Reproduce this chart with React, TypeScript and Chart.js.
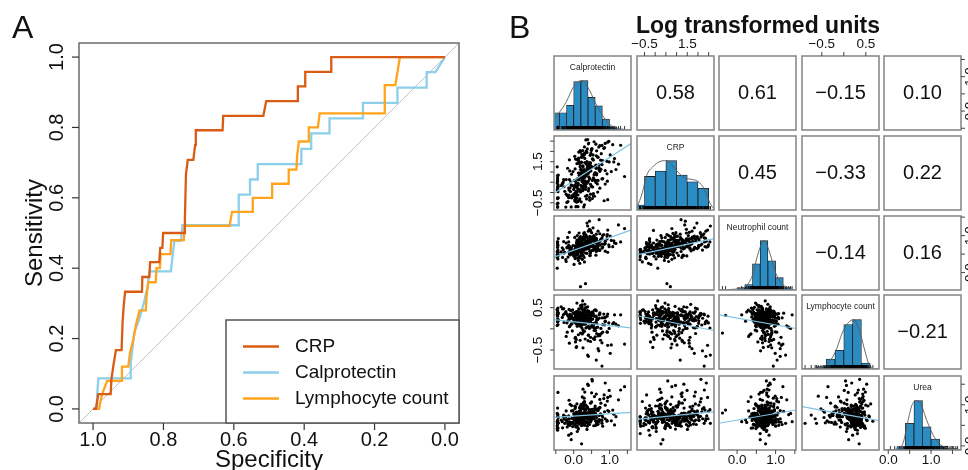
import React, { useEffect, useRef } from 'react';
import { Chart, registerables } from 'chart.js';

Chart.register(...registerables);

const FONT = '"Liberation Sans", Arial, Helvetica, sans-serif';

// ---------------- Panel A : ROC curves ----------------
const rocMin = -0.04;
const rocMax = 1.04;
const specTicks = [1.0, 0.8, 0.6, 0.4, 0.2, 0.0];
const sensTicks = [0.0, 0.2, 0.4, 0.6, 0.8, 1.0];
const rocLabels = ['CRP', 'Calprotectin', 'Lymphocyte count'];

const crpSpec = [1, 0.992, 0.985, 0.95, 0.948, 0.942, 0.935, 0.919, 0.916, 0.913, 0.909, 0.861, 0.86, 0.84, 0.838, 0.812, 0.809, 0.803, 0.801, 0.741, 0.739, 0.736, 0.731, 0.715, 0.71, 0.708, 0.632, 0.63, 0.516, 0.508, 0.418, 0.418, 0.397, 0.397, 0.323, 0.323, 0];
const crpSens = [0, 0, 0.042, 0.042, 0.083, 0.125, 0.167, 0.167, 0.25, 0.292, 0.333, 0.333, 0.375, 0.375, 0.417, 0.417, 0.458, 0.458, 0.5, 0.5, 0.542, 0.667, 0.708, 0.708, 0.75, 0.792, 0.792, 0.833, 0.833, 0.875, 0.875, 0.917, 0.917, 0.958, 0.958, 1, 1];

const calSpec = [1, 0.99, 0.988, 0.985, 0.895, 0.893, 0.888, 0.883, 0.867, 0.855, 0.845, 0.84, 0.779, 0.774, 0.769, 0.75, 0.746, 0.586, 0.586, 0.554, 0.554, 0.532, 0.532, 0.408, 0.408, 0.38, 0.38, 0.328, 0.328, 0.233, 0.233, 0.135, 0.135, 0.052, 0.052, 0.027, 0];
const calSens = [0, 0, 0.043, 0.087, 0.087, 0.13, 0.174, 0.217, 0.261, 0.304, 0.348, 0.391, 0.391, 0.435, 0.478, 0.478, 0.522, 0.522, 0.609, 0.609, 0.652, 0.652, 0.696, 0.696, 0.739, 0.739, 0.783, 0.783, 0.826, 0.826, 0.87, 0.87, 0.913, 0.913, 0.957, 0.957, 1];

const lymSpec = [1, 0.983, 0.975, 0.96, 0.918, 0.918, 0.9, 0.895, 0.885, 0.878, 0.868, 0.85, 0.848, 0.843, 0.822, 0.82, 0.81, 0.808, 0.78, 0.778, 0.742, 0.74, 0.612, 0.605, 0.546, 0.546, 0.491, 0.491, 0.444, 0.444, 0.422, 0.42, 0.415, 0.387, 0.387, 0.361, 0.356, 0.171, 0.171, 0.141, 0.128, 0];
const lymSens = [0, 0, 0.04, 0.08, 0.08, 0.12, 0.12, 0.16, 0.2, 0.24, 0.28, 0.28, 0.32, 0.36, 0.36, 0.4, 0.4, 0.44, 0.44, 0.48, 0.48, 0.52, 0.52, 0.56, 0.56, 0.6, 0.6, 0.64, 0.64, 0.68, 0.68, 0.72, 0.76, 0.76, 0.8, 0.8, 0.84, 0.84, 0.92, 0.92, 1, 1];

// ---------------- Panel B : pairs panel ----------------
const varNames = ['Calprotectin', 'CRP', 'Neutrophil count', 'Lymphocyte count', 'Urea'];

const calValues = [
  -0.45, 0.08, -0.22, -0.44, 0.15, -0.31, -0.05, -0.46, 0.21, -0.12, 0.02, -0.45, -0.27, 0.3, -0.09, -0.43, -0.18, 0.04, -0.35, -0.14,
  0.12, -0.45, -0.19, 0.33, -0.03, -0.44, 0.05, 0.24, -0.25, 0.14, -0.46, 0.42, 0.01, -0.11, 0.19, -0.45, 0.09, -0.07, 0.18, 0.07,
  0.28, 0.03, -0.45, 0.16, 0.58, -0.08, 0.35, 0.11, -0.44, 0.22, 0.47, 0.06, -0.21, 0.13, 0.25, -0.43, 0.09, 0.19, -0.14, 0.02,
  0.36, -0.45, 0.17, 0.62, 0.08, 0.29, -0.04, 0.44, 0.12, -0.46, 0.23, 0.73, 0.15, 0.05, 0.31, -0.32, 0.21, 0.1, 0.26, 0.18,
  0.24, 0.52, -0.45, 0.11, 0.38, 0.19, 0.85, 0.03, 0.31, 0.16, 0.67, -0.28, 0.45, 0.22, 0.07, 0.34, 0.14, 0.27, 0.2, 0.25,
  0.28, -0.17, 0.55, 0.21, 0.09, 0.41, 0.3, 0.95, 0.13, 0.26, 0.64, 0.18, 0.37, 0.06, 0.48, 0.23, 0.79, 0.34, 0.19, 0.25,
  0.71, 0.24, 0.12, 0.47, -0.06, 0.38, 0.29, 0.63, 0.17, 1.05, 0.33, 0.22, 0.56, 0.14, 0.41, 0.88, 0.26, 0.35, 0.44, 0.31,
  0.45, 0.93, 0.3, 0.02, 0.54, 0.21, 0.79, 0.38, 0.18, 0.63, 0.41, 1.14, 0.28, 0.47, 0.7, 0.35, 0.52, 0.23, 0.4, 0.32,
  0.26, 0.64, 0.49, 1.25, 0.36, 0.08, 0.73, 0.44, 0.55, 0.31, 0.99, 0.5, 0.41, 0.88, 0.29, 0.57, 0.38, 0.81, 0.47, 0.61,
  0.86, 0.15, 0.6, 0.42, 1.02, 0.71, 0.34, 0.53, 1.42, 0.64, 0.39, 0.79, 0.48, 0.94, 0.57, 0.68, 1.18, 0.51, 0.75, 0.62,
  -0.45, 0.11, -0.16, 0.27, -0.02, -0.44, 0.06, -0.29, 0.17, -0.1, 0.38, -0.46, 0.0, -0.21, 0.13, -0.07, 0.23, -0.45, 0.04, -0.13,
  0.2, -0.02, 0.33, 0.11, -0.45, 0.26, 0.07, 0.45, 0.16, -0.13, 0.29, 0.04, 0.55, 0.18, -0.44, 0.37, 0.1, 0.23, -0.06, 0.14,
  0.32, 0.14, 0.49, 0.25, 0.68, 0.03, 0.37, 0.21, 0.58, 0.29, -0.12, 0.42, 0.18, 0.76, 0.35, 0.09, 0.46, 0.27, 0.93, 0.31,
  0.47, 0.22, 0.61, 0.35, 0.84, 0.4, 0.13, 0.53, 0.29, 0.71, 0.44, 1.09, 0.26, 0.5, 0.37, 0.66, 0.05, 0.45, 0.98, 0.39,
  0.55, 0.3, 0.73, 0.46, 0.95, 0.62, 0.19, 0.81, 0.5, 1.12, 0.39, 0.67, 0.58, 1.31, 0.44, 0.77, 0.25, 0.63, 0.88, 0.52,
];
const crpValues = [
  -0.7, -0.68, -0.71, -0.52, -0.38, 0.45, -0.21, 0.12, -0.45, 0.63, -0.05, -0.3, 0.28, -0.6, 0.05, 0.85, -0.15, -0.42, 0.34, -0.25,
  -0.69, -0.7, -0.48, 0.55, -0.12, 0.31, -0.33, 0.78, 0.06, -0.41, 0.47, 0.19, -0.2, 1.05, 0.02, 0.62, -0.27, 0.36, 0.91, -0.05,
  -0.7, -0.36, 0.71, 0.15, -0.18, 0.52, 0.88, -0.44, 0.27, 1.12, 0.4, -0.08, 0.63, 0.95, 0.09, -0.26, 0.46, 1.31, 0.22, 0.58,
  -0.31, 0.82, 0.13, 0.49, -0.47, 1.04, 0.34, 0.67, -0.12, 1.25, 0.56, 0.21, 0.95, -0.22, 0.73, 0.42, 1.48, 0.05, 0.61, 0.88,
  0.98, -0.29, 0.55, 0.18, 1.22, 0.71, -0.4, 0.36, 1.46, 0.84, 0.02, 0.63, 1.09, 0.27, -0.11, 0.92, 1.68, 0.49, 0.77, 0.12,
  0.34, 1.18, -0.16, 0.72, 1.41, 0.55, 0.97, -0.35, 1.63, 0.21, 0.86, 1.26, 0.48, 0.04, 1.05, 1.85, 0.66, 0.28, 1.12, 0.79,
  1.36, 0.52, 1.58, -0.08, 0.89, 1.14, 0.31, 1.79, 0.73, 1.02, 0.15, 1.47, 0.63, 1.97, 0.95, 0.41, 1.24, 0.82, -0.24, 1.66,
  0.68, 1.52, 1.11, 0.25, 1.83, 0.94, 1.36, 0.47, 2.04, 1.21, 0.08, 1.65, 0.83, 1.44, 2.21, 1.03, 0.59, 1.75, 1.29, 0.36,
  1.74, 0.92, 2.05, 1.38, 0.45, 1.61, 2.28, 1.16, 0.71, 1.92, 1.49, 0.3, 2.37, 1.07, 1.83, 0.86, 2.12, 1.55, 1.27, 0.6,
  2.18, 1.46, 0.97, 2.41, 1.83, 1.21, 2.56, 1.64, 0.78, 2.03, 1.35, 2.29, 1.9, 0.55, 2.47, 1.72, 1.12, 2.14, 1.58, 2.35,
  -0.7, 0.36, -0.44, 0.71, -0.19, 0.04, -0.69, 0.52, -0.31, 0.23, 0.94, -0.55, 0.15, -0.08, 0.43, -0.7, 0.61, -0.26, 0.29, -0.13,
  0.35, 1.02, -0.18, 0.66, 0.21, 1.3, 0.48, -0.37, 0.84, 0.12, 0.57, 1.15, -0.05, 0.74, 0.39, 1.51, 0.27, 0.93, -0.26, 0.62,
  0.88, 1.42, 0.31, 1.07, 0.59, 1.76, -0.14, 0.97, 1.25, 0.43, 1.59, 0.76, 0.05, 1.13, 2.02, 0.65, 1.34, 0.22, 0.91, 1.88,
  1.22, 1.71, 0.56, 1.39, 2.15, 0.93, 1.57, 0.27, 1.88, 1.1, 1.46, 2.33, 0.74, 1.26, 1.95, 0.42, 1.63, 1.03, 2.49, 1.34,
  1.58, 2.22, 1.03, 1.81, 2.45, 1.34, 1.97, 0.68, 2.11, 1.49, 2.58, 1.72, 0.91, 2.3, 1.41, 1.89, 2.04, 1.17, 2.39, 1.63,
];
const neutValues = [
  0.48, 0.62, 0.35, 0.55, 0.71, 0.41, 0.58, 0.12, 0.66, 0.5, 0.44, 0.77, 0.53, 0.29, 0.6, 0.47, 0.69, 0.38, 0.56, 0.83,
  0.58, 0.43, 0.67, -0.3, 0.52, 0.74, 0.61, 0.36, 0.55, 0.81, 0.49, 0.64, 0.22, 0.7, 0.57, 0.46, 0.88, 0.6, 0.4, 0.65,
  0.63, 0.51, 0.72, 0.44, 0.68, 0.57, 0.85, 0.39, 0.61, 0.76, 0.53, 0.66, 0.3, 0.7, 0.59, 0.92, 0.48, 0.64, 0.74, 0.55,
  0.69, 0.56, 0.78, 0.47, 0.62, 0.73, 0.51, 0.88, 0.65, 0.41, 0.71, 0.6, 0.82, 0.54, 0.97, 0.67, 0.45, 0.76, 0.63, 0.58,
  0.72, 0.6, 0.81, 0.5, 0.66, -0.38, 0.77, 0.63, 0.91, 0.55, 0.7, 0.84, 0.46, 0.74, 0.68, 1.02, 0.59, 0.79, 0.65, 0.73,
  0.62, 0.95, 0.7, 0.49, 0.83, 0.75, 1.08, 0.55, 0.66, 0.78, 0.59, 0.9, 0.73, 0.52, 0.86, 0.68, 0.77, 0.64, 0.71, 0.8,
  0.84, 0.56, 0.73, 1.14, 0.67, 0.79, 0.94, 0.62, 0.7, 0.87, 0.53, 0.77, 1.0, 0.65, 0.81, 0.58, 0.9, 0.74, 0.71, 0.8,
  0.69, 0.91, 0.78, 0.6, 1.21, 0.82, 0.66, 0.95, 0.74, 0.57, 0.88, 0.8, 1.06, 0.7, 0.61, 0.99, 0.76, 0.85, 0.73, 0.84,
  0.96, 0.72, 0.88, 1.29, 0.64, 0.81, 1.05, 0.77, 0.61, 0.93, 0.7, 0.85, 1.12, 0.79, 0.66, 0.9, 0.74, 1.0, 0.83, 0.87,
  0.77, 1.07, 0.87, 0.69, 0.99, 1.43, 0.83, 0.75, 1.19, 0.91, 0.66, 0.94, 0.85, 1.03, 0.71, 1.12, 0.79, 0.96, 0.89, 0.93,
  0.51, 0.66, 0.42, 0.59, 0.73, 0.37, 0.54, 0.62, 0.25, 0.48, 0.7, 0.57, 0.45, 0.8, 0.33, 0.6, 0.52, 0.68, 0.44, 0.56,
  0.64, 0.53, 0.75, 0.6, 0.84, 0.47, 0.69, 0.58, 0.93, 0.66, 0.41, 0.72, 0.62, 0.78, 0.55, 0.7, 1.0, 0.63, 0.5, 0.68,
  0.7, 0.86, 0.59, 0.77, 0.65, 0.95, 0.52, 0.74, 0.81, 0.62, 1.09, 0.71, 0.57, 0.88, 0.68, 0.79, 0.46, 0.75, 0.99, 0.66,
  0.79, 0.92, 0.66, 0.85, 1.03, 0.73, 0.88, 0.6, 0.96, 0.81, 1.17, 0.7, 0.9, 0.77, 1.34, 0.83, 0.64, 0.98, 0.75, 0.86,
  0.88, 1.01, 0.74, 0.93, 1.15, 0.8, 0.97, 0.69, 1.08, 0.86, 1.26, 0.78, 0.95, 0.83, 1.39, 0.9, 0.72, 1.04, 0.85, 0.92,
];
const lymphValues = [
  0.35, 0.22, 0.41, 0.18, 0.29, 0.47, 0.12, 0.33, 0.26, 0.05, 0.38, 0.31, 0.15, 0.44, 0.24, 0.36, -0.08, 0.28, 0.52, 0.2,
  0.27, 0.39, 0.14, 0.32, 0.45, 0.21, 0.3, -0.12, 0.36, 0.25, 0.08, 0.42, 0.18, 0.34, 0.55, 0.23, 0.29, 0.11, 0.37, -0.25,
  0.31, 0.16, 0.38, 0.24, 0.02, 0.43, 0.28, 0.35, 0.1, 0.47, 0.19, 0.33, -0.18, 0.26, 0.4, 0.21, 0.61, 0.13, 0.3, 0.36,
  0.22, 0.36, 0.09, 0.29, 0.41, 0.17, -0.05, 0.33, 0.25, 0.46, 0.13, 0.38, 0.2, -0.31, 0.3, 0.27, 0.51, 0.06, 0.34, 0.23,
  0.28, 0.12, 0.34, 0.2, 0.43, -0.1, 0.26, 0.37, 0.15, 0.31, 0.04, 0.48, 0.23, 0.35, -0.44, 0.18, 0.29, 0.39, 0.09, 0.66,
  0.19, 0.32, 0.07, 0.27, 0.4, -0.15, 0.24, 0.35, 0.11, 0.45, 0.21, -0.27, 0.3, 0.16, 0.38, 0.02, 0.26, 0.5, 0.14, 0.33,
  0.25, 0.1, 0.36, -0.2, 0.29, 0.17, 0.42, 0.03, 0.31, -0.38, 0.22, 0.34, 0.13, 0.47, 0.06, 0.27, -0.09, 0.39, 0.18, 0.58,
  0.15, 0.3, -0.06, 0.24, 0.37, 0.08, -0.33, 0.28, 0.19, 0.43, -0.15, 0.33, 0.11, 0.26, -0.52, 0.35, 0.04, 0.21, 0.4, -0.24,
  0.2, -0.11, 0.31, 0.07, 0.26, -0.42, 0.35, 0.14, -0.23, 0.29, 0.01, 0.38, -0.65, 0.17, 0.24, -0.04, 0.32, 0.1, -0.3, 0.45,
  0.09, 0.27, -0.19, 0.18, -0.58, 0.33, 0.02, 0.23, -0.36, 0.13, 0.41, -0.88, 0.2, -0.08, 0.3, -0.47, 0.11, 0.36, -0.27, 0.16,
  0.3, 0.41, 0.19, 0.36, 0.25, 0.49, 0.13, 0.33, 0.4, 0.07, 0.28, 0.45, 0.22, 0.37, -0.14, 0.31, 0.57, 0.17, 0.34, 0.26,
  0.24, 0.37, 0.11, 0.3, 0.43, -0.03, 0.27, 0.34, 0.18, 0.46, 0.21, -0.22, 0.32, 0.15, 0.39, 0.26, 0.08, 0.53, 0.29, 0.2,
  0.2, 0.33, 0.06, 0.27, -0.17, 0.38, 0.23, 0.13, 0.44, 0.29, -0.34, 0.18, 0.35, 0.01, 0.25, 0.41, 0.15, 0.31, -0.07, 0.49,
  0.16, 0.29, -0.04, 0.22, 0.35, -0.28, 0.19, 0.09, 0.41, -0.13, 0.26, 0.12, -0.45, 0.31, 0.04, 0.24, -0.2, 0.37, 0.14, 0.52,
  0.12, 0.25, -0.16, 0.19, -0.39, 0.3, 0.06, -0.08, 0.36, 0.15, -0.62, 0.22, -0.25, 0.33, 0.01, -0.11, 0.27, -0.74, 0.18, 0.4,
];
const ureaValues = [
  0.62, 0.48, 0.71, 0.55, 0.83, 0.44, 0.67, 0.59, 0.92, 0.51, 0.74, 0.38, 0.65, 1.08, 0.57, 0.69, 0.46, 0.78, 0.63, 0.26,
  0.7, 0.53, 0.64, 0.87, 0.47, 0.76, 0.6, 1.19, 0.55, 0.68, 0.42, 0.81, 0.63, 0.5, 0.97, 0.72, 0.58, 0.15, 0.66, 0.74,
  0.58, 0.79, 0.45, 0.67, 0.91, 0.54, 0.72, 0.62, 1.3, 0.49, 0.76, 0.6, 0.85, 0.41, 0.69, 0.56, 1.02, 0.65, 0.73, 0.52,
  0.75, 0.61, 0.84, 0.5, 0.68, 0.96, 0.57, 0.71, 0.44, 0.79, 0.64, 1.13, 0.53, 0.7, 0.88, 0.59, 0.66, 0.35, 0.77, 0.62,
  0.66, 0.89, 0.55, 0.73, 0.48, 0.8, 1.24, 0.61, 0.69, 0.93, 0.52, 0.75, 0.64, 0.05, 0.82, 0.58, 0.71, 1.05, 0.67, 0.6,
  0.81, 0.57, 0.7, 1.01, 0.63, 0.76, 0.5, 0.86, 0.67, 1.38, 0.59, 0.74, 0.92, 0.46, 0.69, 0.78, 0.62, 0.99, 0.72, 0.55,
  0.64, 0.92, 0.73, 0.58, 0.85, 0.68, 1.16, 0.53, 0.77, 0.61, 0.97, 0.7, 0.49, 0.83, 1.47, 0.66, 0.75, 0.59, 0.88, 0.71,
  0.77, 0.6, 1.07, 0.69, 0.84, 0.55, 0.74, 0.95, 0.63, 1.26, 0.72, 0.51, 0.8, 0.67, 0.9, 0.58, 1.58, 0.76, 0.65, 0.82,
  0.7, 0.87, 0.62, 1.12, 0.78, 0.56, 0.93, 0.68, 0.81, 0.52, 1.35, 0.74, 0.66, 0.99, 0.6, 0.85, 0.72, 0.48, 1.04, 0.79,
  0.83, 0.64, 0.97, 0.73, 1.21, 0.59, 0.88, 0.76, 1.44, 0.69, 0.92, 0.55, 0.8, 1.09, 0.66, 0.86, 0.71, 1.62, 0.78, 0.61,
  0.6, 0.75, 0.52, 0.68, 0.86, 0.43, 0.64, 0.71, 0.57, 1.01, 0.66, 0.49, 0.78, 0.62, 0.7, 0.3, 0.73, 0.56, 0.91, 0.65,
  0.68, 0.55, 0.79, 0.63, 0.92, 0.71, 0.47, 0.84, 0.6, 1.11, 0.74, 0.53, 0.66, 0.87, 0.7, 0.4, 0.77, 0.62, 0.98, 0.72,
  0.74, 0.61, 0.88, 0.69, 0.53, 0.97, 0.76, 0.64, 1.2, 0.71, 0.58, 0.83, 0.67, 1.04, 0.73, 0.49, 0.8, 0.9, 0.62, 1.31,
  0.78, 0.63, 0.91, 0.7, 1.15, 0.57, 0.82, 0.67, 1.02, 0.74, 0.52, 0.87, 0.69, 1.29, 0.76, 0.6, 0.95, 0.72, 0.84, 1.5,
  0.8, 0.66, 0.94, 0.72, 1.18, 0.6, 0.85, 0.7, 1.07, 0.77, 0.55, 0.9, 0.74, 1.36, 0.79, 0.63, 0.99, 0.75, 1.53, 0.83,
];

// axis ranges (log units)
const calRange = [-0.55, 1.6];
const crpRange = [-0.85, 2.75];
const neutRange = [-0.47, 1.53];
const lymphRange = [-0.95, 0.8];
const ureaRange = [-0.1, 1.7];

// tick marks and labelled ticks
const calTicks = [-0.5, 0, 0.5, 1, 1.5];
const calTickLabels = [0, 1];
const crpTicks = [-0.5, 0, 0.5, 1, 1.5, 2, 2.5];
const crpTickLabels = [-0.5, 1.5];
const neutTicks = [0, 0.5, 1, 1.5];
const neutTickLabels = [0, 1];
const lymphTicks = [-0.5, 0, 0.5];
const lymphTickLabels = [-0.5, 0.5];
const ureaTicks = [0, 0.5, 1, 1.5];
const ureaTickLabels = [0, 1];

// histogram bins (centres) and relative heights
const calBins = [-0.5, -0.3, -0.1, 0.1, 0.3, 0.5, 0.7, 0.9, 1.1, 1.3];
const calHist = [0.35, 0.35, 0.5, 0.98, 1.0, 0.66, 0.49, 0.22, 0.06, 0.02];
const crpBins = [-0.75, -0.25, 0.25, 0.75, 1.25, 1.75, 2.25];
const crpHist = [0.1, 0.68, 0.79, 1.0, 0.71, 0.57, 0.44];
const neutBins = [0.1, 0.3, 0.5, 0.7, 0.9, 1.1, 1.3];
const neutHist = [0.05, 0.11, 0.53, 1.0, 0.59, 0.25, 0.05];
const lymphBins = [-0.9, -0.7, -0.5, -0.3, -0.1, 0.1, 0.3, 0.5];
const lymphHist = [0.01, 0.02, 0.05, 0.2, 0.38, 0.9, 1.0, 0.12];
const ureaBins = [0.1, 0.3, 0.5, 0.7, 0.9, 1.1, 1.3, 1.5];
const ureaHist = [0.01, 0.07, 0.54, 1.0, 0.47, 0.22, 0.08, 0.03];

// density curves (relative)
const calDensX = [-0.55, -0.4, -0.2, 0, 0.2, 0.4, 0.6, 0.8, 1.0, 1.2, 1.4, 1.6];
const calDensY = [0.25, 0.36, 0.58, 0.88, 1.0, 0.86, 0.56, 0.3, 0.12, 0.04, 0.01, 0];
const crpDensX = [-0.85, -0.6, -0.4, -0.1, 0.2, 0.5, 0.8, 1.1, 1.4, 1.7, 2.0, 2.3, 2.55, 2.75];
const crpDensY = [0.05, 0.35, 0.7, 0.88, 0.98, 1.0, 0.9, 0.75, 0.65, 0.62, 0.58, 0.42, 0.15, 0.02];
const neutDensX = [-0.47, 0, 0.2, 0.4, 0.55, 0.7, 0.85, 1.0, 1.2, 1.4, 1.53];
const neutDensY = [0, 0.02, 0.06, 0.3, 0.75, 1.0, 0.75, 0.35, 0.1, 0.02, 0];
const lymphDensX = [-0.95, -0.6, -0.4, -0.2, 0, 0.22, 0.37, 0.5, 0.6, 0.8];
const lymphDensY = [0, 0.02, 0.08, 0.33, 0.8, 1.0, 0.73, 0.3, 0.04, 0];
const ureaDensX = [-0.1, 0.2, 0.35, 0.45, 0.55, 0.65, 0.75, 0.9, 1.05, 1.2, 1.4, 1.7];
const ureaDensY = [0, 0.02, 0.15, 0.55, 0.9, 1.0, 0.95, 0.6, 0.3, 0.12, 0.04, 0];

// correlations (upper cells, row-major) and lm lines (lower cells, row-major: y at left / right edge)
const corrValues = [0.58, 0.61, -0.15, 0.10, 0.45, -0.33, 0.22, -0.14, 0.16, -0.21];
const fitLeft = [-0.05, 0.415, 0.48, 0.217, 0.31, 0.33, 0.695, 0.647, 0.55, 0.953];
const fitRight = [2.38, 1.15, 0.92, 0.023, -0.04, 0.007, 0.817, 0.832, 0.873, 0.613];

// ---------------- styling / layout ----------------
const CRP_COLOR = '#DA5B14';
const CAL_COLOR = '#8CCFEA';
const LYM_COLOR = '#FFA41C';
const HIST_FILL = '#2B8BC3';
const FIT_COLOR = '#7DC3E3';
const BOX_COLOR = '#8a8a8a';

const COL_X = [554, 637, 719, 802, 884];
const ROW_Y = [56, 136, 216, 295, 376];
const CELL_W = 77;
const CELL_H = 74;
const M = 32;

const zip = (xs: number[], ys: number[]) => xs.map((x, k) => ({ x, y: ys[k] }));
const fmt = (v: number, d = 1) => v.toFixed(d).replace('-', '\u2212');

const VARS = [
  { values: calValues, range: calRange, ticks: calTicks, labels: calTickLabels, bins: calBins, hist: calHist, dx: calDensX, dy: calDensY },
  { values: crpValues, range: crpRange, ticks: crpTicks, labels: crpTickLabels, bins: crpBins, hist: crpHist, dx: crpDensX, dy: crpDensY },
  { values: neutValues, range: neutRange, ticks: neutTicks, labels: neutTickLabels, bins: neutBins, hist: neutHist, dx: neutDensX, dy: neutDensY },
  { values: lymphValues, range: lymphRange, ticks: lymphTicks, labels: lymphTickLabels, bins: lymphBins, hist: lymphHist, dx: lymphDensX, dy: lymphDensY },
  { values: ureaValues, range: ureaRange, ticks: ureaTicks, labels: ureaTickLabels, bins: ureaBins, hist: ureaHist, dx: ureaDensX, dy: ureaDensY },
];

function drawRotated(ctx: CanvasRenderingContext2D, text: string, x: number, y: number) {
  ctx.save();
  ctx.translate(x, y);
  ctx.rotate(-Math.PI / 2);
  ctx.textAlign = 'center';
  ctx.textBaseline = 'middle';
  ctx.fillText(text, 0, 0);
  ctx.restore();
}

const rocPlugin = {
  id: 'rocDecor',
  afterDatasetsDraw(chart: any) {
    const { ctx, chartArea: a, scales } = chart;
    const xs = scales.x;
    const ys = scales.y;
    ctx.save();
    ctx.strokeStyle = '#6b6b6b';
    ctx.lineWidth = 1.5;
    ctx.strokeRect(a.left, a.top, a.right - a.left, a.bottom - a.top);

    ctx.strokeStyle = '#333';
    ctx.lineWidth = 1.2;
    ctx.fillStyle = '#111';
    ctx.font = `20px ${FONT}`;
    specTicks.forEach((v) => {
      const p = xs.getPixelForValue(v);
      ctx.beginPath();
      ctx.moveTo(p, a.bottom);
      ctx.lineTo(p, a.bottom + 7);
      ctx.stroke();
      ctx.textAlign = 'center';
      ctx.textBaseline = 'middle';
      ctx.fillText(v.toFixed(1), p, a.bottom + 17);
    });
    sensTicks.forEach((v) => {
      const p = ys.getPixelForValue(v);
      ctx.beginPath();
      ctx.moveTo(a.left, p);
      ctx.lineTo(a.left - 7, p);
      ctx.stroke();
      drawRotated(ctx, v.toFixed(1), a.left - 22, p);
    });
    ctx.font = `24px ${FONT}`;
    drawRotated(ctx, 'Sensitivity', a.left - 44, (a.top + a.bottom) / 2);
    ctx.textAlign = 'center';
    ctx.textBaseline = 'alphabetic';
    ctx.fillText('Specificity', (a.left + a.right) / 2, a.bottom + 44);

    // legend
    const bw = 233;
    const bh = 103;
    const bx = a.right - bw;
    const by = a.bottom - bh;
    ctx.fillStyle = '#fff';
    ctx.fillRect(bx, by, bw, bh);
    ctx.strokeStyle = '#555';
    ctx.lineWidth = 1.5;
    ctx.strokeRect(bx, by, bw, bh);
    chart.data.datasets.slice(0, 3).forEach((ds: any, k: number) => {
      const y = by + 26.5 + k * 26;
      ctx.strokeStyle = ds.borderColor;
      ctx.lineWidth = 2.6;
      ctx.beginPath();
      ctx.moveTo(bx + 17, y);
      ctx.lineTo(bx + 53, y);
      ctx.stroke();
      ctx.fillStyle = '#111';
      ctx.font = `19px ${FONT}`;
      ctx.textAlign = 'left';
      ctx.textBaseline = 'middle';
      ctx.fillText(ds.label, bx + 69, y);
    });
    ctx.restore();
  },
};

function buildRoc() {
  const line = (label: string, data: any[], color: string, order: number) => ({
    label, data, borderColor: color, backgroundColor: color, borderWidth: 2.3,
    showLine: true, pointRadius: 0, tension: 0, order,
  });
  return {
    type: 'scatter',
    data: {
      datasets: [
        line(rocLabels[0], zip(crpSpec, crpSens), CRP_COLOR, 1),
        line(rocLabels[1], zip(calSpec, calSens), CAL_COLOR, 3),
        line(rocLabels[2], zip(lymSpec, lymSens), LYM_COLOR, 2),
        {
          label: 'chance',
          data: [{ x: rocMax, y: rocMin }, { x: rocMin, y: rocMax }],
          borderColor: '#c2c2c2', borderWidth: 1, showLine: true, pointRadius: 0, order: 4,
        },
      ],
    },
    options: {
      animation: false, responsive: false, events: [],
      layout: { padding: { left: 79, top: 43, right: 21, bottom: 47 } },
      plugins: { legend: { display: false }, tooltip: { enabled: false } },
      scales: {
        x: { type: 'linear', reverse: true, min: rocMin, max: rocMax, display: false },
        y: { type: 'linear', min: rocMin, max: rocMax, display: false },
      },
    },
    plugins: [rocPlugin],
  };
}

type AxisDef = { side: string; scaleId: string; v: number };

function cellPlugin(opts: { axes: AxisDef[]; corr?: string; title?: string }) {
  return {
    id: 'cellDecor',
    afterDatasetsDraw(chart: any) {
      const { ctx, chartArea: a } = chart;
      ctx.save();
      if (opts.title) {
        ctx.fillStyle = '#222';
        ctx.font = `8.5px ${FONT}`;
        ctx.textAlign = 'center';
        ctx.textBaseline = 'middle';
        ctx.fillText(opts.title, (a.left + a.right) / 2, a.top + 11.5);
      }
      if (opts.corr) {
        ctx.fillStyle = '#111';
        ctx.font = `20px ${FONT}`;
        ctx.textAlign = 'center';
        ctx.textBaseline = 'middle';
        ctx.fillText(opts.corr, (a.left + a.right) / 2, (a.top + a.bottom) / 2);
      }
      ctx.strokeStyle = BOX_COLOR;
      ctx.lineWidth = 1.6;
      ctx.strokeRect(a.left, a.top, a.right - a.left, a.bottom - a.top);

      ctx.strokeStyle = '#444';
      ctx.lineWidth = 1;
      ctx.fillStyle = '#111';
      ctx.font = `13.5px ${FONT}`;
      opts.axes.forEach((ax) => {
        const sc = chart.scales[ax.scaleId];
        const vr = VARS[ax.v];
        vr.ticks.forEach((t) => {
          const p = sc.getPixelForValue(t);
          ctx.beginPath();
          if (ax.side === 'top') { ctx.moveTo(p, a.top); ctx.lineTo(p, a.top - 4); }
          if (ax.side === 'bottom') { ctx.moveTo(p, a.bottom); ctx.lineTo(p, a.bottom + 4); }
          if (ax.side === 'left') { ctx.moveTo(a.left, p); ctx.lineTo(a.left - 4, p); }
          if (ax.side === 'right') { ctx.moveTo(a.right, p); ctx.lineTo(a.right + 4, p); }
          ctx.stroke();
        });
        vr.labels.forEach((t) => {
          const p = sc.getPixelForValue(t);
          const s = fmt(t);
          ctx.textAlign = 'center';
          ctx.textBaseline = 'middle';
          if (ax.side === 'top') ctx.fillText(s, p, a.top - 12);
          if (ax.side === 'bottom') ctx.fillText(s, p, a.bottom + 10);
          if (ax.side === 'left') drawRotated(ctx, s, a.left - 16, p);
          if (ax.side === 'right') drawRotated(ctx, s, a.right + 9, p);
        });
      });
      ctx.restore();
    },
  };
}

function axesFor(i: number, j: number): AxisDef[] {
  const list: AxisDef[] = [];
  if (i === 0 && j % 2 === 1) list.push({ side: 'top', scaleId: 'x', v: j });
  if (i === 4 && j % 2 === 0) list.push({ side: 'bottom', scaleId: 'x', v: j });
  if (j === 0 && i % 2 === 1) list.push({ side: 'left', scaleId: i === j ? 'yv' : 'y', v: i });
  if (j === 4 && i % 2 === 0) list.push({ side: 'right', scaleId: i === j ? 'yv' : 'y', v: i });
  return list;
}

function pairIndex(i: number, j: number, upper: boolean) {
  let k = 0;
  for (let r = 0; r < 5; r++) {
    for (let c = 0; c < 5; c++) {
      if (upper ? c > r : c < r) {
        if (r === i && c === j) return k;
        k++;
      }
    }
  }
  return -1;
}

function buildCell(i: number, j: number) {
  const xv = VARS[j];
  const yv = VARS[i];
  const common = {
    animation: false, responsive: false, events: [],
    layout: { padding: M },
    plugins: { legend: { display: false }, tooltip: { enabled: false } },
  };
  const axes = axesFor(i, j);
  if (i === j) {
    return {
      type: 'bar',
      data: {
        datasets: [
          {
            type: 'bar', data: zip(xv.bins, xv.hist), backgroundColor: HIST_FILL,
            borderColor: '#1b1b1b', borderWidth: 0.8, borderSkipped: false,
            barPercentage: 1, categoryPercentage: 1, order: 3,
          },
          {
            type: 'line', data: zip(xv.dx, xv.dy), borderColor: '#5a5a5a', borderWidth: 0.9,
            pointRadius: 0, cubicInterpolationMode: 'monotone', fill: false, order: 1,
          },
          {
            type: 'scatter', data: xv.values.map((v) => ({ x: v, y: 0.035 })), pointStyle: 'line',
            pointRotation: 90, pointRadius: 2.2, pointBorderColor: '#000', pointBorderWidth: 0.8,
            borderColor: '#000', order: 2,
          },
        ],
      },
      options: {
        ...common,
        scales: {
          x: {
            type: 'linear', min: xv.range[0], max: xv.range[1], offset: false, display: false,
            grid: { offset: false },
            afterBuildTicks: (s: any) => { s.ticks = xv.bins.map((b) => ({ value: b })); },
          },
          y: { type: 'linear', min: 0, max: 1.5, display: false },
          yv: { type: 'linear', axis: 'y', min: yv.range[0], max: yv.range[1], display: false },
        },
      },
      plugins: [cellPlugin({ axes, title: varNames[i] })],
    };
  }
  const scales = {
    x: { type: 'linear', min: xv.range[0], max: xv.range[1], display: false },
    y: { type: 'linear', min: yv.range[0], max: yv.range[1], display: false },
  };
  if (i < j) {
    const k = pairIndex(i, j, true);
    return {
      type: 'scatter',
      data: { datasets: [] },
      options: { ...common, scales },
      plugins: [cellPlugin({ axes, corr: fmt(corrValues[k], 2) })],
    };
  }
  const k = pairIndex(i, j, false);
  return {
    type: 'scatter',
    data: {
      datasets: [
        {
          data: zip(xv.values, yv.values), pointRadius: 1.6, pointBackgroundColor: '#000',
          pointBorderWidth: 0, backgroundColor: '#000', order: 2,
        },
        {
          data: [{ x: xv.range[0], y: fitLeft[k] }, { x: xv.range[1], y: fitRight[k] }],
          showLine: true, borderColor: FIT_COLOR, borderWidth: 1.2, pointRadius: 0, order: 1,
        },
      ],
    },
    options: { ...common, scales },
    plugins: [cellPlugin({ axes })],
  };
}

function ChartCanvas(props: { left: number; top: number; width: number; height: number; build: () => any }) {
  const ref = useRef<HTMLCanvasElement>(null);
  useEffect(() => {
    const chart = new Chart(ref.current as HTMLCanvasElement, props.build());
    return () => chart.destroy();
  }, []);
  return (
    <canvas
      ref={ref}
      width={props.width}
      height={props.height}
      style={{ position: 'absolute', left: props.left, top: props.top, width: props.width, height: props.height }}
    />
  );
}

export default function App() {
  const cells: any[] = [];
  for (let i = 0; i < 5; i++) {
    for (let j = 0; j < 5; j++) {
      cells.push(
        <ChartCanvas
          key={`${i}-${j}`}
          left={COL_X[j] - M}
          top={ROW_Y[i] - M}
          width={CELL_W + 2 * M}
          height={CELL_H + 2 * M}
          build={() => buildCell(i, j)}
        />
      );
    }
  }
  return (
    <div
      style={{
        position: 'absolute', left: 0, top: 0, width: 968, height: 470, overflow: 'hidden',
        background: '#fff', fontFamily: FONT, color: '#111',
      }}
    >
      <ChartCanvas left={0} top={0} width={480} height={470} build={buildRoc} />
      {cells}
      <div style={{ position: 'absolute', left: 12, top: 11, fontSize: 32, lineHeight: '32px' }}>A</div>
      <div style={{ position: 'absolute', left: 509, top: 11, fontSize: 32, lineHeight: '32px' }}>B</div>
      <div
        style={{
          position: 'absolute', left: 558, width: 400, top: 14, textAlign: 'center',
          fontSize: 23, lineHeight: '23px', fontWeight: 'bold',
        }}
      >
        Log transformed units
      </div>
    </div>
  );
}
